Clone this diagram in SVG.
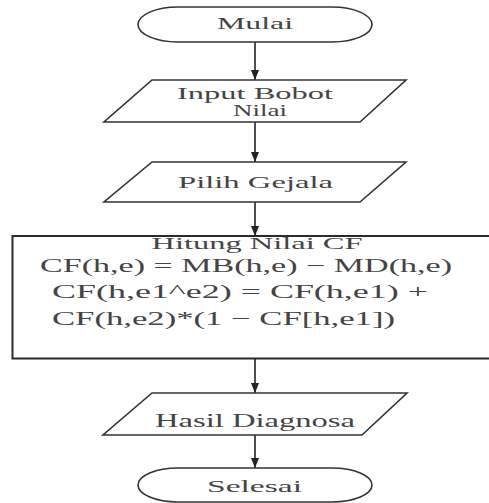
<svg xmlns="http://www.w3.org/2000/svg" width="489" height="503" viewBox="0 0 489 503">
  <defs>
    <style>
      .shape { fill: #ffffff; stroke: #333333; stroke-width: 1.6; }
      .box { fill: #ffffff; stroke: #2a2a2a; stroke-width: 2; }
      .label { font-family: "Liberation Serif", "Times New Roman", serif; fill: #444444; text-anchor: middle; }
      .flow { stroke: #222222; stroke-width: 1.6; fill: none; marker-end: url(#arrow); }
    </style>
    <marker id="arrow" viewBox="0 0 10 8" refX="10" refY="4" markerWidth="10" markerHeight="8" markerUnits="userSpaceOnUse" orient="auto">
      <path d="M0,0 L10,4 L0,8 Z" fill="#222222"/>
    </marker>
  </defs>
  <rect width="489" height="503" fill="#ffffff"/>

  <!-- connectors -->
  <g id="connectors">
    <line class="flow" x1="255" y1="42" x2="255" y2="80"/>
    <line class="flow" x1="255" y1="122" x2="255" y2="162"/>
    <line class="flow" x1="255" y1="202" x2="255" y2="236"/>
    <line class="flow" x1="255" y1="359" x2="255" y2="393"/>
    <line class="flow" x1="255" y1="435" x2="255" y2="468"/>
  </g>

  <g id="mulai">
    <rect class="shape" x="138" y="7" width="234" height="35" rx="40" ry="17.5"/>
    <text class="label" x="255" y="29" font-size="16" textLength="76" lengthAdjust="spacingAndGlyphs">Mulai</text>
  </g>

  <g id="input-bobot">
    <polygon class="shape" points="152,80 406,80 360,122 104,122"/>
    <text class="label" x="255" y="99" font-size="17" textLength="156" lengthAdjust="spacingAndGlyphs">Input Bobot</text>
    <text class="label" x="260" y="116" font-size="17" textLength="54" lengthAdjust="spacingAndGlyphs">Nilai</text>
  </g>

  <g id="pilih-gejala">
    <polygon class="shape" points="152,162 406,162 360,202 104,202"/>
    <text class="label" x="255.5" y="188" font-size="17" textLength="155" lengthAdjust="spacingAndGlyphs">Pilih Gejala</text>
  </g>

  <g id="hitung-cf">
    <!-- right side runs past the canvas edge -->
    <rect class="box" x="12.5" y="236" width="480" height="122.5"/>
    <text class="label" x="257" y="249" font-size="17" textLength="211" lengthAdjust="spacingAndGlyphs">Hitung Nilai CF</text>
    <text class="label" x="246" y="272" font-size="19" textLength="412" lengthAdjust="spacingAndGlyphs">CF(h,e) = MB(h,e) − MD(h,e)</text>
    <text class="label" x="240" y="298" font-size="19" textLength="376" lengthAdjust="spacingAndGlyphs">CF(h,e1^e2) = CF(h,e1) +</text>
    <text class="label" x="223.5" y="325" font-size="19" textLength="343" lengthAdjust="spacingAndGlyphs">CF(h,e2)*(1 − CF[h,e1])</text>
  </g>

  <g id="hasil-diagnosa">
    <polygon class="shape" points="152,393 407,393 362,435 103,435"/>
    <text class="label" x="255" y="427" font-size="18" textLength="200" lengthAdjust="spacingAndGlyphs">Hasil Diagnosa</text>
  </g>

  <g id="selesai">
    <rect class="shape" x="138" y="468" width="234" height="34" rx="40" ry="17"/>
    <text class="label" x="254.5" y="492" font-size="16" textLength="95" lengthAdjust="spacingAndGlyphs">Selesai</text>
  </g>
</svg>
